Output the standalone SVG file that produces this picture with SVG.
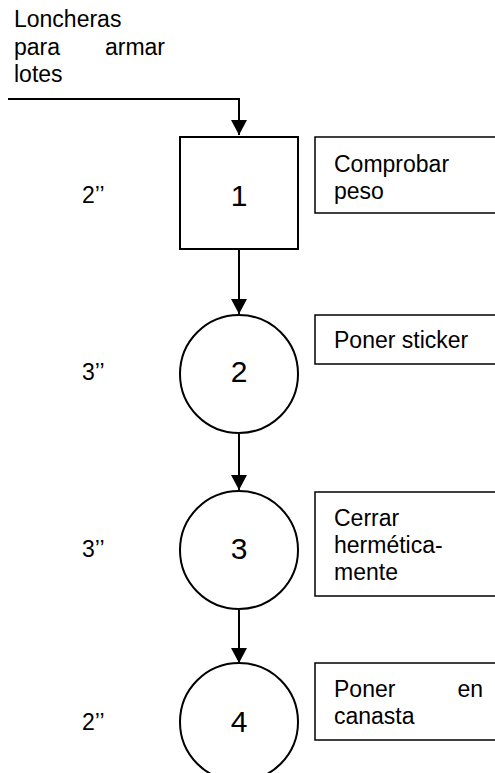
<svg xmlns="http://www.w3.org/2000/svg" width="495" height="773" viewBox="0 0 495 773">
  <defs>
    <marker id="arrow" markerWidth="16" markerHeight="16" refX="15" refY="8" orient="auto" markerUnits="userSpaceOnUse">
      <path d="M0,0 L15,8 L0,16 Z" fill="#000"/>
    </marker>
    <style>
      text { font-family: "Liberation Sans", Arial, sans-serif; fill: #000; }
      .lbl { font-size: 23px; }
      .end { text-anchor: end; }
      .num { font-size: 30px; text-anchor: middle; }
      .shape { fill: #fff; stroke: #000; stroke-width: 2; }
      .desc { fill: #fff; stroke: #000; stroke-width: 1.5; }
      .conn { fill: none; stroke: #000; stroke-width: 2; }
    </style>
  </defs>
  <rect width="495" height="773" fill="#fff"/>

  <!-- input label -->
  <g id="input-label">
    <text class="lbl" x="14" y="27">Loncheras</text>
    <text class="lbl" x="14" y="54.5">para</text>
    <text class="lbl end" x="165" y="54.5">armar</text>
    <text class="lbl" x="14" y="82">lotes</text>
  </g>

  <!-- connectors -->
  <g id="connectors">
    <path class="conn" d="M8,99 H239 V135" marker-end="url(#arrow)"/>
    <path class="conn" d="M239,249 V314" marker-end="url(#arrow)"/>
    <path class="conn" d="M239,433 V490" marker-end="url(#arrow)"/>
    <path class="conn" d="M239,609 V663" marker-end="url(#arrow)"/>
  </g>

  <!-- step 1: inspection -->
  <g id="step1">
    <rect class="shape" x="180" y="137" width="118" height="112"/>
    <text class="num" x="239" y="206">1</text>
    <text class="lbl" x="82" y="203">2’’</text>
    <rect class="desc" x="315" y="137" width="185" height="76"/>
    <text class="lbl" x="334" y="171.5">Comprobar</text>
    <text class="lbl" x="334" y="199">peso</text>
  </g>

  <!-- step 2: operation -->
  <g id="step2">
    <circle class="shape" cx="239" cy="374" r="59"/>
    <text class="num" x="239" y="382">2</text>
    <text class="lbl" x="82" y="380">3’’</text>
    <rect class="desc" x="315" y="315" width="185" height="49"/>
    <text class="lbl" x="334" y="348">Poner sticker</text>
  </g>

  <!-- step 3: operation -->
  <g id="step3">
    <circle class="shape" cx="239" cy="550" r="59"/>
    <text class="num" x="239" y="559">3</text>
    <text class="lbl" x="82" y="557">3’’</text>
    <rect class="desc" x="315" y="492" width="185" height="104"/>
    <text class="lbl" x="334" y="526">Cerrar</text>
    <text class="lbl" x="334" y="553">hermética-</text>
    <text class="lbl" x="334" y="580">mente</text>
  </g>

  <!-- step 4: operation -->
  <g id="step4">
    <circle class="shape" cx="239" cy="722" r="59"/>
    <text class="num" x="239" y="732">4</text>
    <text class="lbl" x="82" y="730">2’’</text>
    <rect class="desc" x="315" y="663" width="185" height="77"/>
    <text class="lbl" x="334" y="697">Poner</text>
    <text class="lbl end" x="483" y="697">en</text>
    <text class="lbl" x="334" y="724">canasta</text>
  </g>
</svg>
